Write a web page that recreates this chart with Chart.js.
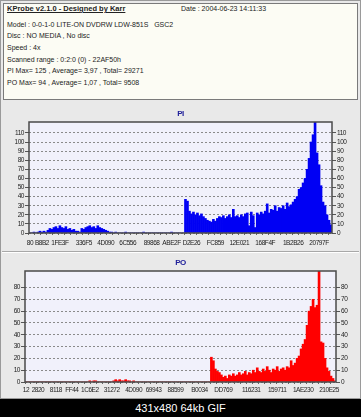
<!DOCTYPE html>
<html>
<head>
<meta charset="utf-8">
<script src="https://cdn.jsdelivr.net/npm/chart.js@4"></script>
<style>
body{margin:0;width:361px;height:417px;background:#000;overflow:hidden;font-family:'Liberation Sans',Arial,sans-serif;position:relative}
#frame{position:absolute;left:0;top:0;width:359px;height:397px;background:#e9e9e9;border:1px solid #9a9a9a}
#header{position:absolute;left:3px;top:3px;width:353px;height:95px;background:#fcfcf4;border:1px solid #7a7a7a;font-size:7px;color:#222}
.line{position:absolute;left:3px;white-space:pre;line-height:8px}
#title{font-weight:bold;text-decoration:underline;font-size:7.5px}
#sep{position:absolute;left:2px;top:251px;width:357px;height:1px;background:#a8a8a8;border-bottom:1px solid #fff}
.box{position:absolute;left:0}
#foot{position:absolute;left:0;top:399px;width:361px;height:18px;color:#fff;font-size:11px;text-align:center;line-height:18px}
</style>
</head>
<body>
<div id="frame"></div>
<div id="header">
  <div class="line" id="title" style="top:1px">KProbe v2.1.0 - Designed by Karr</div>
  <div class="line" style="top:1px;left:177px">Date : 2004-06-23 14:11:33</div>
  <div class="line" style="top:17px">Model : 0-0-1-0 LITE-ON DVDRW LDW-851S   GSC2</div>
  <div class="line" style="top:28px">Disc : NO MEDIA , No disc</div>
  <div class="line" style="top:40px">Speed : 4x</div>
  <div class="line" style="top:52px">Scanned range : 0:2:0 (0) - 22AF50h</div>
  <div class="line" style="top:63px">PI Max= 125 , Average= 3,97 , Total= 29271</div>
  <div class="line" style="top:75px">PO Max= 94 , Average= 1,07 , Total= 9508</div>
</div>
<div id="sep"></div>
<div class="box" style="top:103px"><canvas id="piChart" width="361" height="150"></canvas></div>
<div class="box" style="top:253px"><canvas id="poChart" width="361" height="145"></canvas></div>
<div id="foot">431x480 64kb GIF</div>
<script>
// PI errors, one bar per sample along the disc
const piValues = [
    0,0,1,0, 1,2,1,2,1,
    3,5,4,6,7,5,8,6,5,7,4,5,3,4,2, 2,1,
    5,4,6,7,8,6,7,5,8,6,5,4,3,2,
    1,1,0,1,0,0,0,0,1,0, 0,0,0,0,0,0,0,1,0,0, 0,0,0,0,0,0,0,0,0,0, 0,1,0,0,0,0,0,0,
    37,35,24,21,23,20,22,19,21,18,
    16,14,13,12,15,13,16,18,17,19,
    16,18,20,17,26,18,19,17,20,18,
    21,22,8,23,19,6,22,20,23,21,
    24,32,22,26,25,30,24,28,27,30,
    26,33,29,31,34,37,40,48,50,55,
    60,70,82,100,108,125,88,75,52,34,
    30,20,14,9
]
const piTickLabels = ['80','B8B2','1FE3F','336F5','4D090','6C556','89868','ABE2F','D2E26','FC859','12E021','168F4F','1B2B26','20797F']
const piTickIdx = [0,6,15,27,38,49,61,71,81,93,105,118,132,145]

// PO errors
const poValues = [
    0,0,0,0,0,0,0,0,0,0, 0,0,0,0,0,0,0,0,0,0, 0,0,0,0,0,0,0,0,0,0, 0,0,
    1,0,1,1,0,
    0,0,0,0,0,0,0,
    1,2,1,2,1,1,2,1,1,0,1,0,0,
    0,0,0,0,0,0,0,0,0,0, 0,0,0,0,0,0,0,0,0,0, 0,0,0,0,0,0,0,0,0,0, 0,0,0,0,0,0,
    21,18,11,9,8,6,4,5,3,6,
    5,7,5,6,8,6,7,9,6,8,
    7,10,8,12,9,8,11,9,13,10,
    8,11,10,13,9,11,12,10,13,12,
    18,14,16,20,22,28,32,36,48,60,
    64,70,63,65,94,34,33,20,12,9,
    5,3,1
]
const poTickLabels = ['12','2820','8118','FF44','1C6E2','31272','4D090','69943','88599','B0034','DD769','116231','159711','1AE230','210E25']
const poTickIdx = [0,6,15,23,32,43,54,64,75,87,99,113,126,139,152]

Chart.defaults.font.family = "'Liberation Sans', Arial, sans-serif"
Chart.defaults.font.size = 6.5
Chart.defaults.color = '#222'

const plotFrame = {
    id: 'plotFrame',
    beforeDraw(chart) {
        const a = chart.chartArea
        const ctx = chart.ctx
        // squeeze the small tick text a little, like the old bitmap font
        ctx.letterSpacing = '-0.45px'
        ctx.save()
        ctx.fillStyle = '#f1f1fb'
        ctx.fillRect(a.left, a.top, a.right - a.left, a.bottom - a.top)
        ctx.restore()
    },
    afterDraw(chart) {
        const a = chart.chartArea
        const ctx = chart.ctx
        ctx.save()
        ctx.strokeStyle = '#4a4a4a'
        ctx.lineWidth = 1.5
        ctx.strokeRect(a.left, a.top, a.right - a.left, a.bottom - a.top)
        ctx.restore()
    }
}

function makeLabels(n, idx, names){
    const labels = []
    for (let i = 0; i < n; i++) labels.push('')
    idx.forEach((k, j) => { labels[k] = names[j] })
    return labels
}

function yAxis(pos, max, width, onChart){
    return {
        position: pos,
        min: 0,
        max: max,
        afterBuildTicks: s => { s.ticks = s.ticks.filter(t => t.value % 10 === 0) },
        afterFit: s => { s.width = width },
        ticks: { stepSize: 10, autoSkip: false, padding: 1, color: '#222' },
        grid: {
            drawOnChartArea: onChart,
            color: '#8a8a8a',
            lineWidth: 1,
            tickColor: '#555',
            tickLength: 4
        },
        border: { display: false, dash: [2, 2] }
    }
}

function drawChart(id, title, titlePad, values, color, labels, yMax, leftW, rightW, xH, xPad){
    const ctx = document.getElementById(id).getContext('2d')
    return new Chart(ctx, {
        type: 'bar',
        data: {
            labels: labels,
            datasets: [{
                data: values,
                backgroundColor: color,
                borderWidth: 0,
                barPercentage: 1,
                categoryPercentage: 1,
                yAxisID: 'y'
            }]
        },
        options: {
            responsive: false,
            animation: false,
            layout: { padding: 0 },
            plugins: {
                legend: { display: false },
                tooltip: { enabled: false },
                title: {
                    display: true,
                    text: title,
                    color: '#20209a',
                    font: { size: 8, weight: 'bold', lineHeight: 1 },
                    padding: titlePad
                }
            },
            scales: {
                x: {
                    afterFit: s => { s.height = xH },
                    ticks: { autoSkip: false, maxRotation: 0, minRotation: 0, padding: xPad, color: '#222', font: { size: 6.5 } },
                    grid: {
                        drawOnChartArea: false,
                        tickLength: 2,
                        tickColor: c => c.index % 3 === 0 ? '#666' : 'rgba(0,0,0,0)'
                    },
                    border: { display: false }
                },
                y: yAxis('left', yMax, leftW, true),
                y2: yAxis('right', yMax, rightW, false)
            }
        },
        plugins: [plotFrame]
    })
}

drawChart('piChart', 'PI', { top: 7, bottom: 4 }, piValues, '#0000f4',
    makeLabels(piValues.length, piTickIdx, piTickLabels), 122, 29, 29, 20, 4)
drawChart('poChart', 'PO', { top: 6, bottom: 4 }, poValues, '#ff0000',
    makeLabels(poValues.length, poTickIdx, poTickLabels), 94, 25, 25, 16, 2)
</script>
</body>
</html>
